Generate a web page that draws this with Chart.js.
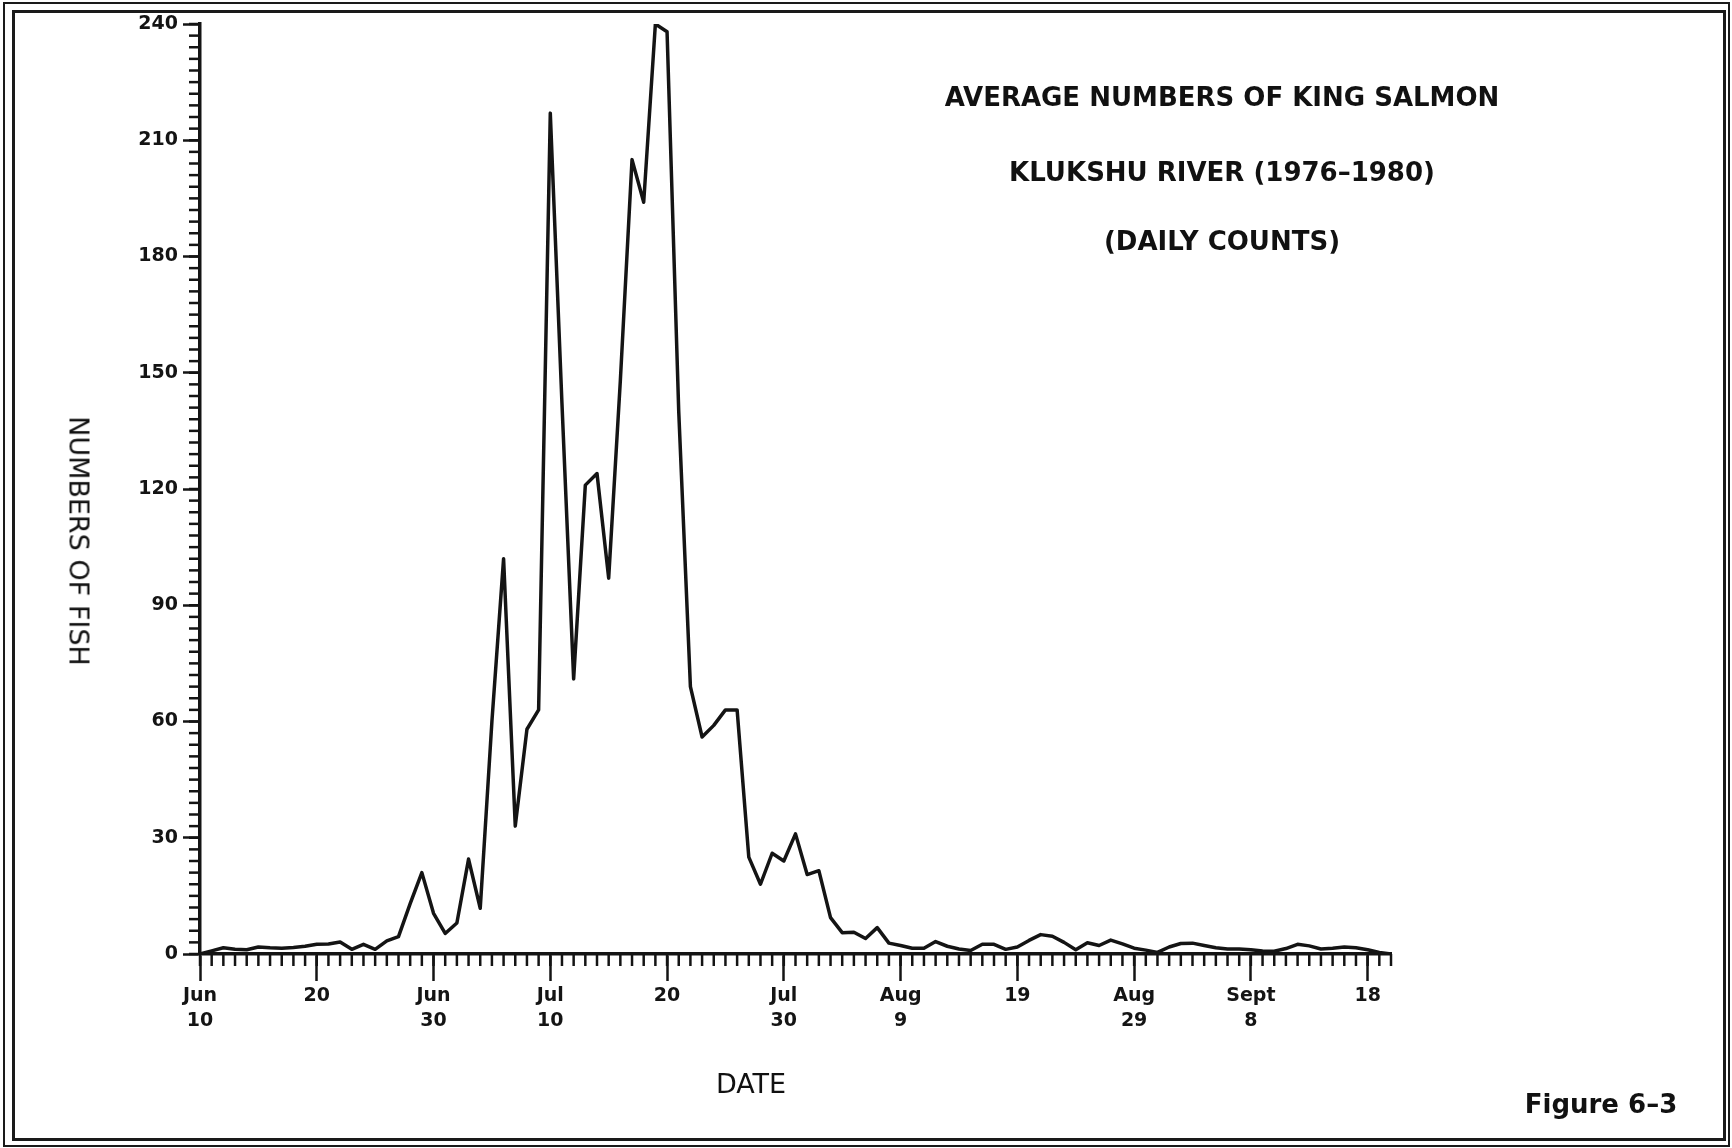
<!DOCTYPE html>
<html>
<head>
<meta charset="utf-8">
<script src="https://cdn.jsdelivr.net/npm/chart.js@4.4.1/dist/chart.umd.min.js"></script>
<style>
  body { margin: 0; background: #fff; }
  #wrap { position: relative; width: 1732px; height: 1148px; overflow: hidden; }
  #chart { position: absolute; left: 0; top: 0; }
  .frame { position: absolute; box-sizing: border-box; border-style: solid; border-color: #1a1a1a; }
  .txt { position: absolute; color: #111; white-space: nowrap; transform: translate(-50%, -50%);
         font-family: "DejaVu Sans", sans-serif; }
  .ttl { font-weight: bold; font-size: 26px; }
</style>
</head>
<body>
<div id="wrap">
  <div class="frame" style="left:3px;top:2px;width:1727px;height:1145px;border-width:2px;"></div>
  <div class="frame" style="left:12px;top:10px;width:1714px;height:1131px;border-width:3px;"></div>
  <canvas id="chart" width="1732" height="1148"></canvas>
  <div class="txt ttl" style="left:1222px;top:97px;">AVERAGE NUMBERS OF KING SALMON</div>
  <div class="txt ttl" style="left:1222px;top:172px;">KLUKSHU RIVER (1976–1980)</div>
  <div class="txt ttl" style="left:1222px;top:241px;">(DAILY COUNTS)</div>
  <div class="txt" style="left:79px;top:541px;font-size:27px;transform:translate(-50%,-50%) rotate(90deg);">NUMBERS OF FISH</div>
  <div class="txt" style="left:751px;top:1083px;font-size:27px;">DATE</div>
  <div class="txt ttl" style="left:1601px;top:1104px;">Figure 6–3</div>
</div>
<script>
// daily average counts, Jun 10 .. Sept 20 (day 0 = Jun 10)
var counts = [
  0, 0.8, 1.6, 1.2, 1.1, 1.8, 1.6, 1.5, 1.7, 2.0,
  2.5, 2.6, 3.1, 1.2, 2.5, 1.2, 3.4, 4.5, 13, 21,
  10.5, 5.3, 8, 24.5, 11.8, 60, 102, 33, 58, 63,
  217, 142, 71, 121, 124, 97, 148, 205, 194, 240,
  238, 140, 69, 56, 59, 63, 63, 25, 18, 26,
  24, 31, 20.5, 21.5, 9.4, 5.5, 5.6, 4, 6.8, 2.8,
  2.2, 1.5, 1.5, 3.2, 2, 1.3, 0.9, 2.5, 2.5, 1.2,
  1.8, 3.5, 5, 4.6, 3, 1.1, 2.9, 2.2, 3.6, 2.6,
  1.5, 1, 0.4, 1.8, 2.7, 2.8, 2.2, 1.6, 1.3, 1.3,
  1.1, 0.8, 0.7, 1.4, 2.5, 2.1, 1.3, 1.5, 1.8, 1.6,
  1.1, 0.4, 0
];

// tick labels every 10 days
var tickDays = [0, 10, 20, 30, 40, 50, 60, 70, 80, 90, 100];
var tickLabels = [['Jun', '10'], '20', ['Jun', '30'], ['Jul', '10'], '20', ['Jul', '30'],
                  ['Aug', '9'], '19', ['Aug', '29'], ['Sept', '8'], '18'];

var months = ['Jun', 'Jul', 'Aug', 'Sept'];
var monthDays = [30, 31, 31, 30];

// one category per day
var dayLabels = [];
var m = 0, d = 10;
for (var i = 0; i < counts.length; i++) {
    dayLabels.push(months[m] + ' ' + d);
    d++;
    if (d > monthDays[m]) { d = 1; m++; }
}

var ink = '#141414';
var tickFont = { family: 'DejaVu Sans', size: 19, weight: 'bold', lineHeight: 1.35 };

var minorTicks = {
    id: 'minorTicks',
    afterDraw: function(chart) {
        var c = chart.ctx, xs = chart.scales.x, ys = chart.scales.y;
        c.save();
        c.strokeStyle = ink;
        c.lineWidth = 2.5;
        xs.ticks.forEach(function(t, i) {
            var px = xs.getPixelForTick(i);
            c.beginPath(); c.moveTo(px, xs.top); c.lineTo(px, xs.top + 12); c.stroke();
        });
        ys.ticks.forEach(function(t, i) {
            var py = ys.getPixelForTick(i);
            c.beginPath(); c.moveTo(ys.right, py); c.lineTo(ys.right - 11, py); c.stroke();
        });
        c.restore();
    }
};

new Chart(document.getElementById('chart'), {
    type: 'line',
    data: {
        labels: dayLabels,
        datasets: [{
            data: counts,
            borderColor: ink,
            borderWidth: 3.5,
            borderJoinStyle: 'round',
            pointRadius: 0,
            tension: 0,
            fill: false
        }]
    },
    options: {
        responsive: false,
        animation: false,
        devicePixelRatio: 1,
        layout: { padding: { top: 24, right: 341, left: 0, bottom: 0 } },
        plugins: { legend: { display: false }, tooltip: { enabled: false } },
        scales: {
            x: {
                afterFit: function(s) { s.height = 194; },
                border: { display: true, color: ink, width: 3.5 },
                grid: {
                    drawOnChartArea: false,
                    tickLength: 27,
                    tickWidth: 2.5,
                    tickColor: function(ctx) {
                        return tickDays.indexOf(ctx.index) >= 0 ? ink : 'rgba(0,0,0,0)';
                    }
                },
                ticks: {
                    autoSkip: false,
                    maxRotation: 0,
                    padding: 2,
                    color: ink,
                    font: tickFont,
                    callback: function(v, i) {
                        var k = tickDays.indexOf(i);
                        return k >= 0 ? tickLabels[k] : '';
                    }
                }
            },
            y: {
                min: 0,
                max: 240,
                afterFit: function(s) { s.width = 200; },
                border: { display: true, color: ink, width: 3.5 },
                grid: {
                    drawOnChartArea: false,
                    tickLength: 17,
                    tickWidth: 2.5,
                    tickColor: function(ctx) {
                        return ctx.tick && ctx.tick.value % 30 === 0 ? ink : 'rgba(0,0,0,0)';
                    }
                },
                ticks: {
                    stepSize: 3,
                    autoSkip: false,
                    padding: 5,
                    color: ink,
                    font: tickFont,
                    callback: function(v) { return v % 30 === 0 ? String(v) : ''; }
                }
            }
        }
    },
    plugins: [minorTicks]
});
</script>
</body>
</html>
